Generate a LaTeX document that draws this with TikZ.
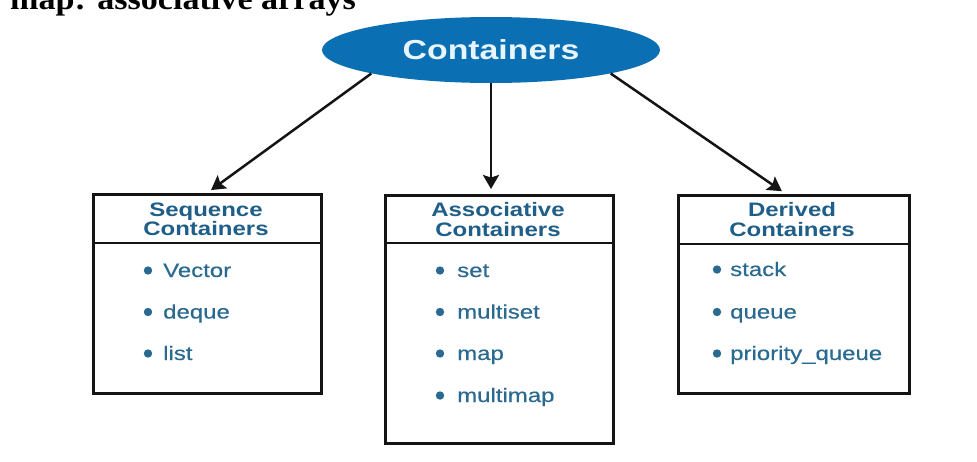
\documentclass[tikz,border=0pt]{standalone}
\usepackage{fontspec}
\setmainfont{Liberation Sans}
\newfontfamily\labelfont[FakeStretch=1.23]{Liberation Sans}
\newfontfamily\itemfont[FakeStretch=1.23, FakeBold=0.4]{Liberation Sans}
\newfontfamily\captionfont[FakeStretch=1.1]{Liberation Serif}
\usetikzlibrary{shapes.geometric,arrows.meta}

\definecolor{rootblue}{HTML}{0B6FB4}
\definecolor{roottext}{HTML}{E8F6FB}
\definecolor{headblue}{HTML}{1E5E88}
\definecolor{itemblue}{HTML}{2A6A90}
\definecolor{inkline}{HTML}{141414}

\tikzset{
  rootnode/.style={ellipse, fill=rootblue, draw=none, minimum width=338pt,
    minimum height=66pt, inner sep=0pt, text=roottext,
    font=\labelfont\bfseries\fontsize{27.5}{27.5}\selectfont},
  catbox/.style={draw=inkline, line width=2.8pt, inner sep=0pt, anchor=north west},
  divider/.style={draw=inkline, line width=2.8pt},
  headtext/.style={anchor=north, inner sep=0pt, align=center, text=headblue,
    font=\labelfont\bfseries\fontsize{19.5}{19.5}\selectfont},
  itemtext/.style={anchor=base west, inner sep=0pt, text=itemblue,
    font=\itemfont\fontsize{19.5}{19.5}\selectfont},
  dot/.style={fill=itemblue},
  link/.style={draw=inkline, line width=2.5pt,
    -{Stealth[length=14pt, width=16pt, inset=2.5pt]}, shorten >=5pt}
}

\begin{document}
\begin{tikzpicture}[x=1pt, y=-1pt]
  \useasboundingbox (0,0) rectangle (977,461);
  \clip (0,0) rectangle (977,461);
  \fill[white] (0,0) rectangle (977,461);

  % caption line above the figure, cut by the frame
  \node[anchor=base west, inner sep=0pt,
        font=\captionfont\bfseries\fontsize{31}{31}\selectfont]
        (caption) at (10,9.5) {map: associative arrays};

  % root
  \node[rootnode] (root) at (491,50) {Containers};

  % category boxes
  \node[catbox, minimum width=228pt, minimum height=199pt] (seq) at (92,193) {};
  \node[catbox, minimum width=228pt, minimum height=248pt] (assoc) at (384,194) {};
  \node[catbox, minimum width=231pt, minimum height=198pt] (derived) at (677,194) {};

  \draw[divider] (seq.west |- 0,243) -- (seq.east |- 0,243);
  \draw[divider] (assoc.west |- 0,243) -- (assoc.east |- 0,243);
  \draw[divider] (derived.west |- 0,244) -- (derived.east |- 0,244);

  \node[headtext] (seqhead) at (206,202.5) {Sequence\\Containers};
  \node[headtext] (assochead) at (498,202.5) {Associative\\Containers};
  \node[headtext] (derivedhead) at (792,202.5) {Derived\\Containers};

  % sequence containers
  \foreach \name/\y in {Vector/277, deque/318.5, list/360} {
    \fill[dot] (148,\y-6.5) circle (4.2);
    \node[itemtext] at (163,\y) {\name};
  }
  % associative containers
  \foreach \name/\y in {set/277, multiset/318.5, map/360, multimap/402} {
    \fill[dot] (440,\y-6.5) circle (4.2);
    \node[itemtext] at (457,\y) {\name};
  }
  % derived containers
  \foreach \name/\y in {stack/276, queue/318.5, priority\_queue/360} {
    \fill[dot] (717,\y-6.5) circle (4.2);
    \node[itemtext] at (730,\y) {\name};
  }

  % connectors
  \coordinate (seqtip) at (207,193);
  \coordinate (derivedtip) at (786,194);
  \draw[link] (root.south west) -- (seqtip);
  \draw[link] (root.south) -- (root.south |- assoc.north);
  \draw[link] (root.south east) -- (derivedtip);
\end{tikzpicture}
\end{document}
